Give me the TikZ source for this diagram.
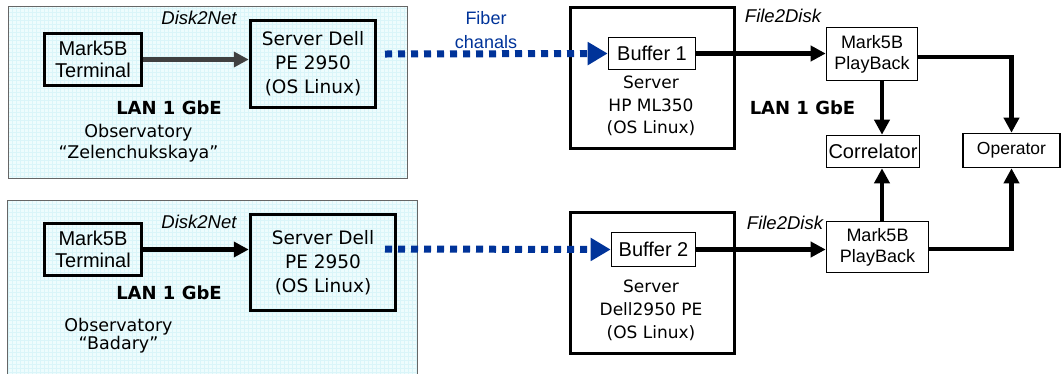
\documentclass[tikz,border=0pt]{standalone}
\usepackage{fontspec}
\setmainfont{DejaVu Sans}
\newfontfamily\arialfont{Liberation Sans}
\usetikzlibrary{arrows.meta,positioning}

\definecolor{panelcyan}{RGB}{238,252,253}
\definecolor{gridcyan}{RGB}{218,245,249}
\definecolor{fiberblue}{RGB}{0,51,153}
\definecolor{linkgray}{RGB}{64,64,64}

\tikzset{
  thickbox/.style={draw, line width=3.5pt, align=center, inner sep=0pt},
  thinbox/.style={draw, line width=1.6pt, align=center, inner sep=0pt},
  flow/.style={line width=4.5pt, -{Triangle[length=15pt,width=15pt]}},
  fiber/.style={fiberblue, line width=7pt, dash pattern=on 7pt off 6pt,
    -{Triangle[length=20pt,width=22pt]}},
  lan/.style={font=\bfseries\fontsize{18}{20}\selectfont},
  proto/.style={font=\arialfont\itshape\fontsize{18.5}{20}\selectfont},
}

\begin{document}
\begin{tikzpicture}[x=1pt, y=-1pt]
    \useasboundingbox (0,0) rectangle (1063,373);

    % --- Panneaux des observatoires ---
    \fill[panelcyan] (8,6) rectangle (407,178);
    \draw[gridcyan, line width=0.4pt, step=4pt] (8,6) grid (407,178);
    \draw[black!60, line width=1pt] (8,6) rectangle (407,178);
    \fill[panelcyan] (7,200) rectangle (417,380);
    \draw[gridcyan, line width=0.4pt, step=4pt] (7,200) grid (417,380);
    \draw[black!60, line width=1pt] (7,200) rectangle (417,380);

    % --- Observatoire du haut ---
    \node[thickbox, minimum width=97pt, minimum height=52pt,
          font=\arialfont\fontsize{20}{22}\selectfont] (term1) at (93,59.5) {Mark5B\\Terminal};
    \node[thickbox, minimum width=125pt, minimum height=87pt,
          font=\fontsize{18.5}{24}\selectfont] (srv1) at (313,64) {Server Dell\\PE 2950\\(OS Linux)};
    \node[proto] (d2n1) at (199,18) {Disk2Net};
    \node[lan] (lan1) at (169,108) {LAN 1 GbE};
    \node[align=center, font=\fontsize{17.5}{21}\selectfont] (obs1) at (138.5,143.5)
         {Observatory\\“Zelenchukskaya”};
    \draw[flow, linkgray] (term1.east) -- (term1.east -| srv1.west);

    % --- Observatoire du bas ---
    \node[thickbox, minimum width=97pt, minimum height=52pt,
          font=\arialfont\fontsize{20}{22}\selectfont] (term2) at (93,249.5) {Mark5B\\Terminal};
    \node[thickbox, minimum width=145pt, minimum height=96pt,
          font=\fontsize{18.5}{24}\selectfont] (srv2) at (323,262.5) {Server Dell\\PE 2950\\(OS Linux)};
    \node[proto] (d2n2) at (199,222) {Disk2Net};
    \node[lan] (lan2) at (169,293) {LAN 1 GbE};
    \node[align=center, font=\fontsize{17.5}{18}\selectfont] (obs2) at (118.5,336)
         {Observatory\\“Badary”};
    \draw[flow] (term2.east) -- (term2.east -| srv2.west);

    % --- Serveurs de réception ---
    \node[thickbox, minimum width=164pt, minimum height=141pt] (hp) at (652.5,78) {};
    \node[thinbox, minimum width=87pt, minimum height=32pt,
          font=\arialfont\fontsize{20}{22}\selectfont] (buf1) at (652,53.5) {Buffer 1};
    \node[align=center, font=\fontsize{17}{22.5}\selectfont] (hptxt) at (651,106)
         {Server\\HP ML350\\(OS Linux)};

    \node[thickbox, minimum width=164pt, minimum height=141pt] (dell) at (652.5,283) {};
    \node[thinbox, minimum width=84pt, minimum height=34pt,
          font=\arialfont\fontsize{20}{22}\selectfont] (buf2) at (653.5,249.5) {Buffer 2};
    \node[align=center, font=\fontsize{17}{23}\selectfont] (delltxt) at (651,310)
         {Server\\Dell2950 PE\\(OS Linux)};

    % --- Canaux optiques ---
    \coordinate (f1) at (385,54);
    \coordinate (f2) at (385,249);
    \node[align=center, text=fiberblue, font=\arialfont\fontsize{18}{24}\selectfont] (fib) at (486,30)
         {Fiber\\chanals};
    \draw[fiber] (f1) -- (buf1.west);
    \draw[fiber] (f2) -- (buf2.west);

    % --- Lecture et corrélation ---
    \node[thinbox, minimum width=91pt, minimum height=53pt,
          font=\arialfont\fontsize{18}{21}\selectfont] (pb1) at (872,54) {Mark5B\\PlayBack};
    \node[thinbox, minimum width=102pt, minimum height=51pt,
          font=\arialfont\fontsize{18}{21}\selectfont] (pb2) at (877.5,247) {Mark5B\\PlayBack};
    \node[thinbox, minimum width=93pt, minimum height=32pt,
          font=\arialfont\fontsize{20}{22}\selectfont] (corr) at (873,151.5) {Correlator};
    \node[thinbox, minimum width=97pt, minimum height=34pt,
          font=\arialfont\fontsize{17.5}{20}\selectfont] (op) at (1011.5,150.5) {Operator};
    \node[proto] (f2d1) at (783,16) {File2Disk};
    \node[proto] (f2d2) at (785,223) {File2Disk};
    \node[lan] (lan3) at (802.5,108) {LAN 1 GbE};

    \coordinate (trunk) at (882,0);
    \draw[flow] (buf1.east) -- (buf1.east -| pb1.west);
    \draw[flow] (buf2.east) -- (buf2.east -| pb2.west);
    \draw[flow] (pb1.south -| trunk) -- (corr.north -| trunk);
    \draw[flow] (pb2.north -| trunk) -- (corr.south -| trunk);
    \draw[flow] ([yshift=-3pt]pb1.east) -| (op.north);
    \draw[flow] ([yshift=-2pt]pb2.east) -| (op.south);
\end{tikzpicture}
\end{document}
